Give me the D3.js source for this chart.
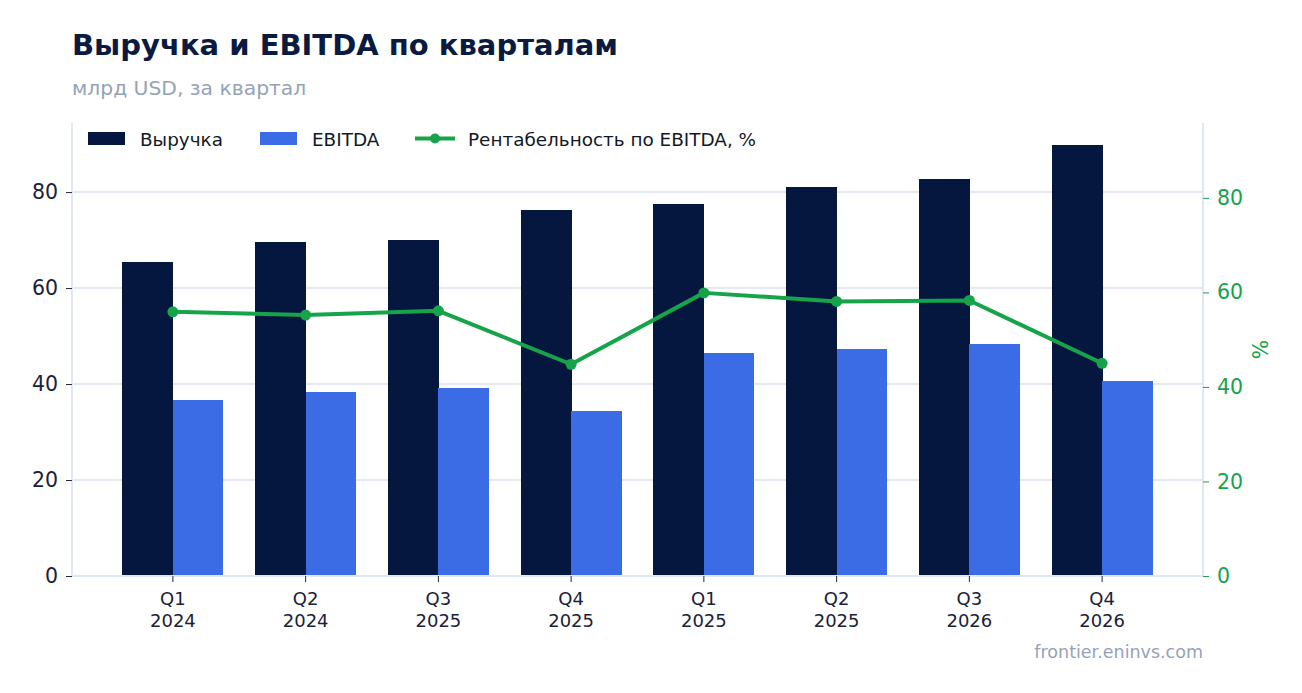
<!DOCTYPE html>
<html><head><meta charset="utf-8">
<script src="https://cdn.jsdelivr.net/npm/d3@7"></script>
<style>
html,body{margin:0;padding:0;background:#fff;}
svg{display:block;font-family:"DejaVu Sans",sans-serif;}
</style></head>
<body>
<svg id="chart" width="1302" height="693"></svg>
<script>
const quarters = ["Q1","Q2","Q3","Q4","Q1","Q2","Q3","Q4"];
const years = ["2024","2024","2025","2025","2025","2025","2026","2026"];
const revenue = [65.5, 69.7, 70.1, 76.3, 77.6, 81.1, 82.8, 89.9];
const ebitda = [36.7, 38.4, 39.2, 34.4, 46.5, 47.3, 48.4, 40.7];
const margin = [55.9, 55.2, 56.1, 44.8, 59.9, 58.1, 58.3, 45.0];
const leftTicks = [0, 20, 40, 60, 80];
const rightTicks = [0, 20, 40, 60, 80];

const C_REV = "#06173f", C_EB = "#3b6ce6", C_LINE = "#16a34a";
const svg = d3.select("#chart");
const L = 72, R = 1203, T = 123, B = 576;
const idx = d3.range(quarters.length);

const x = d3.scaleBand().domain(idx).range([L, R]).paddingInner(0.24).paddingOuter(0.38);
const xs = d3.scaleBand().domain(["rev","eb"]).range([0, x.bandwidth()]);
const yL = d3.scaleLinear().domain([0, d3.max(revenue) * 1.05]).range([B, T]);
const yR = d3.scaleLinear().domain([0, d3.max(margin) * 1.6]).range([B, T]);

// title
svg.append("text").attr("x", 72).attr("y", 55).text("Выручка и EBITDA по кварталам")
  .attr("font-size", 29).attr("font-weight", "bold").attr("fill", "#0b1a40");
svg.append("text").attr("x", 72).attr("y", 95).text("млрд USD, за квартал")
  .attr("font-size", 20.3).attr("fill", "#94a3b8");

// gridlines
svg.append("g").selectAll("line").data(leftTicks.filter(d => d > 0)).join("line")
  .attr("x1", L).attr("x2", R).attr("y1", d => yL(d)).attr("y2", d => yL(d))
  .attr("stroke", "#e5e9f1").attr("stroke-width", 2);

// axis frame lines
svg.append("line").attr("x1", L).attr("x2", L).attr("y1", T).attr("y2", B).attr("stroke", "#e2e8f0").attr("stroke-width", 2);
svg.append("line").attr("x1", R).attr("x2", R).attr("y1", T).attr("y2", B).attr("stroke", "#e2e8f0").attr("stroke-width", 2);

// bars
const g = svg.append("g").attr("shape-rendering", "crispEdges");
g.selectAll("rect.rev").data(idx).join("rect").attr("class", "rev")
  .attr("x", i => x(i) + xs("rev")).attr("width", xs.bandwidth() + 0.5)
  .attr("y", i => yL(revenue[i])).attr("height", i => B - yL(revenue[i])).attr("fill", C_REV);
g.selectAll("rect.eb").data(idx).join("rect").attr("class", "eb")
  .attr("x", i => x(i) + xs("eb")).attr("width", xs.bandwidth())
  .attr("y", i => yL(ebitda[i])).attr("height", i => B - yL(ebitda[i])).attr("fill", C_EB);

// bottom line
svg.append("line").attr("x1", L).attr("x2", R).attr("y1", B).attr("y2", B).attr("stroke", "#e2e8f0").attr("stroke-width", 2);

// left axis
const axL = svg.append("g").attr("transform", `translate(${L},0)`)
  .call(d3.axisLeft(yL).tickValues(leftTicks).tickSize(6).tickPadding(8));
axL.select(".domain").remove();
axL.selectAll("line").attr("stroke", "#1e293b");
axL.selectAll("text").attr("font-size", 20.5).attr("fill", "#1a2238").attr("font-family", "DejaVu Sans");

// right axis
const axR = svg.append("g").attr("transform", `translate(${R},0)`)
  .call(d3.axisRight(yR).tickValues(rightTicks).tickSize(6).tickPadding(8));
axR.select(".domain").remove();
axR.selectAll("line").attr("stroke", C_LINE);
axR.selectAll("text").attr("font-size", 20.5).attr("fill", C_LINE).attr("font-family", "DejaVu Sans");
svg.append("text").attr("transform", `translate(1268,${(T + B) / 2}) rotate(-90)`)
  .attr("text-anchor", "middle").attr("font-size", 20.5).attr("fill", C_LINE).text("%");

// bottom axis
const axB = svg.append("g").attr("transform", `translate(0,${B})`)
  .call(d3.axisBottom(x).tickSize(6).tickFormat(() => ""));
axB.select(".domain").remove();
axB.selectAll("line").attr("stroke", "#1e293b");
axB.selectAll(".tick").each(function(i) {
  const t = d3.select(this).select("text");
  t.attr("font-size", 18).attr("fill", "#1a2238").attr("font-family", "DejaVu Sans").attr("y", null).attr("dy", null);
  t.append("tspan").attr("x", 0).attr("y", 29).text(quarters[i]);
  t.append("tspan").attr("x", 0).attr("y", 51).text(years[i]);
});

// line
const cx = i => x(i) + x.bandwidth() / 2;
svg.append("path").datum(idx)
  .attr("d", d3.line().x(cx).y(i => yR(margin[i])))
  .attr("fill", "none").attr("stroke", C_LINE).attr("stroke-width", 4).attr("stroke-linejoin", "round");
svg.append("g").selectAll("circle").data(idx).join("circle")
  .attr("cx", cx).attr("cy", i => yR(margin[i])).attr("r", 5.5).attr("fill", C_LINE);

// legend
const lg = svg.append("g").attr("font-size", 18.4).attr("fill", "#111827");
lg.append("rect").attr("x", 88).attr("y", 132).attr("width", 37).attr("height", 13).attr("fill", C_REV);
lg.append("text").attr("x", 140).attr("y", 146).text("Выручка");
lg.append("rect").attr("x", 260).attr("y", 132).attr("width", 37).attr("height", 13).attr("fill", C_EB);
lg.append("text").attr("x", 312).attr("y", 146).text("EBITDA");
lg.append("line").attr("x1", 415).attr("x2", 455).attr("y1", 138.5).attr("y2", 138.5).attr("stroke", C_LINE).attr("stroke-width", 4);
lg.append("circle").attr("cx", 435).attr("cy", 138.5).attr("r", 5).attr("fill", C_LINE);
lg.append("text").attr("x", 468).attr("y", 146).text("Рентабельность по EBITDA, %");

// footer
svg.append("text").attr("x", 1203).attr("y", 658).attr("text-anchor", "end")
  .attr("font-size", 17.5).attr("fill", "#94a3b8").text("frontier.eninvs.com");
</script>
</body></html>
